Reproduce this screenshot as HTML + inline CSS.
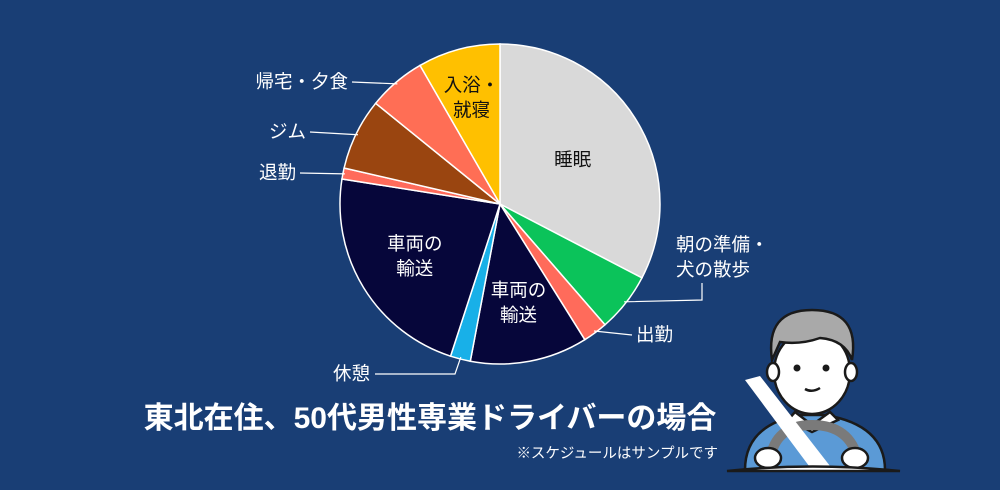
<!DOCTYPE html>
<html><head><meta charset="utf-8"><style>
html,body{margin:0;padding:0;background:#193e75;}
#wrap{position:relative;width:1000px;height:490px;overflow:hidden;background:#193e75;font-family:"Liberation Sans","Noto Sans CJK JP",sans-serif;}
svg text{font-family:"Liberation Sans","Noto Sans CJK JP",sans-serif;}
</style></head><body>
<div id="wrap">
<svg id="chart" width="1000" height="490">
  <g id="slices"></g>
  <g id="labels"></g>
  <text x="430" y="428" text-anchor="middle" fill="#fff" font-size="30" font-weight="bold">東北在住、50代男性専業ドライバーの場合</text>
  <text x="718" y="458" text-anchor="end" fill="#fff" font-size="14.5">※スケジュールはサンプルです</text>
  <g stroke="#1a1a1a" stroke-width="2.5">
    <path d="M745 470 Q745 425 800 415 L825 415 Q885 425 885 470 Z" fill="#5b9ad6"/>
    <path d="M795 412 L812 425 L830 412 L838 420 L812 432 L788 420 Z" fill="#fff"/>
    <ellipse cx="812" cy="372" rx="38" ry="42" fill="#fff"/>
    <ellipse cx="773" cy="372" rx="6" ry="9" fill="#fff"/>
    <ellipse cx="851" cy="372" rx="6" ry="9" fill="#fff"/>
    <path d="M772 360 Q765 310 812 310 Q860 310 852 360 Q845 340 820 338 Q800 345 780 342 Z" fill="#a9a9a9"/>
    <circle cx="797" cy="368" r="3.5" fill="#1a1a1a" stroke="none"/>
    <circle cx="826" cy="368" r="3.5" fill="#1a1a1a" stroke="none"/>
    <path d="M805 389 Q812 393 820 388" fill="none"/>
    <path d="M770 460 Q775 425 812 425 Q850 425 858 460" fill="none" stroke="#7a7a7a" stroke-width="10"/>
    <path d="M745 380 L760 376 L830 466 L812 470 Z" fill="#fff" stroke="none"/>
    <ellipse cx="768" cy="458" rx="13" ry="10" fill="#fff"/>
    <ellipse cx="855" cy="458" rx="13" ry="10" fill="#fff"/>
    <path d="M727 471 Q812 462 900 471 Z" fill="#fff"/>
  </g>
</svg>
</div>
<script>
const categories=["睡眠","朝の準備・犬の散歩","出勤","車両の輸送","休憩","車両の輸送","退勤","ジム","帰宅・夕食","入浴・就寝"];
const values=[117.5,21.5,9,42.7,7.3,81,4,26,21,30];
const colors=["#d9d9d9","#0bc35a","#ff6b5b","#06063a","#18b0e8","#06063a","#ff6b5b","#9a4510","#ff6e55","#ffc000"];
const cx=500,cy=204,R=160;
const total=values.reduce((a,b)=>a+b,0);
function pt(a,r){const t=(a-90)*Math.PI/180;return [cx+r*Math.cos(t),cy+r*Math.sin(t)];}
const gS=document.getElementById('slices');
const ns="http://www.w3.org/2000/svg";
let acc=0;const mids=[];
values.forEach((v,i)=>{
  const a0=acc/total*360,a1=(acc+v)/total*360;acc+=v;mids.push((a0+a1)/2);
  const p0=pt(a0,R),p1=pt(a1,R);const large=(a1-a0)>180?1:0;
  const p=document.createElementNS(ns,'path');
  p.setAttribute('d',`M${cx} ${cy} L${p0[0]} ${p0[1]} A${R} ${R} 0 ${large} 1 ${p1[0]} ${p1[1]} Z`);
  p.setAttribute('fill',colors[i]);p.setAttribute('stroke','#fff');p.setAttribute('stroke-width','1.5');
  
  
  gS.appendChild(p);
});
const gL=document.getElementById('labels');
function txt(lines,x,y,color,anchor){
  lines.forEach((l,k)=>{const t=document.createElementNS(ns,'text');
    t.setAttribute('x',x);t.setAttribute('y',y+k*25);t.setAttribute('fill',color);
    t.setAttribute('font-size','18.5');t.setAttribute('text-anchor',anchor);t.textContent=l;
    
    
    gL.appendChild(t);});
}
function leader(i,pts){const q=pt(mids[i],R-2);const pl=document.createElementNS(ns,'polyline');
  pl.setAttribute('points',[q].concat(pts).map(p=>p.join(',')).join(' '));
  pl.setAttribute('fill','none');pl.setAttribute('stroke','#fff');pl.setAttribute('stroke-width','1.2');
  
  
  gL.appendChild(pl);}
function inside(i,r,lines,color){const p=pt(mids[i],r);txt(lines,p[0],p[1]-(lines.length-1)*12+6,color,'middle');}
inside(0,85,["睡眠"],"#111");
inside(3,100,["車両の","輸送"],"#fff");
inside(5,100,["車両の","輸送"],"#fff");
inside(9,110,["入浴・","就寝"],"#111");
leader(1,[[702,300],[702,283]]);txt(["朝の準備・","犬の散歩"],676,251,"#fff","start");
leader(2,[[632,335]]);txt(["出勤"],636,341,"#fff","start");
leader(4,[[455,374],[375,374]]);txt(["休憩"],370,380,"#fff","end");
leader(6,[[300,173]]);txt(["退勤"],296,179,"#fff","end");
leader(7,[[310,132]]);txt(["ジム"],306,138,"#fff","end");
leader(8,[[352,82]]);txt(["帰宅・夕食"],348,88,"#fff","end");
</script>
</body></html>
